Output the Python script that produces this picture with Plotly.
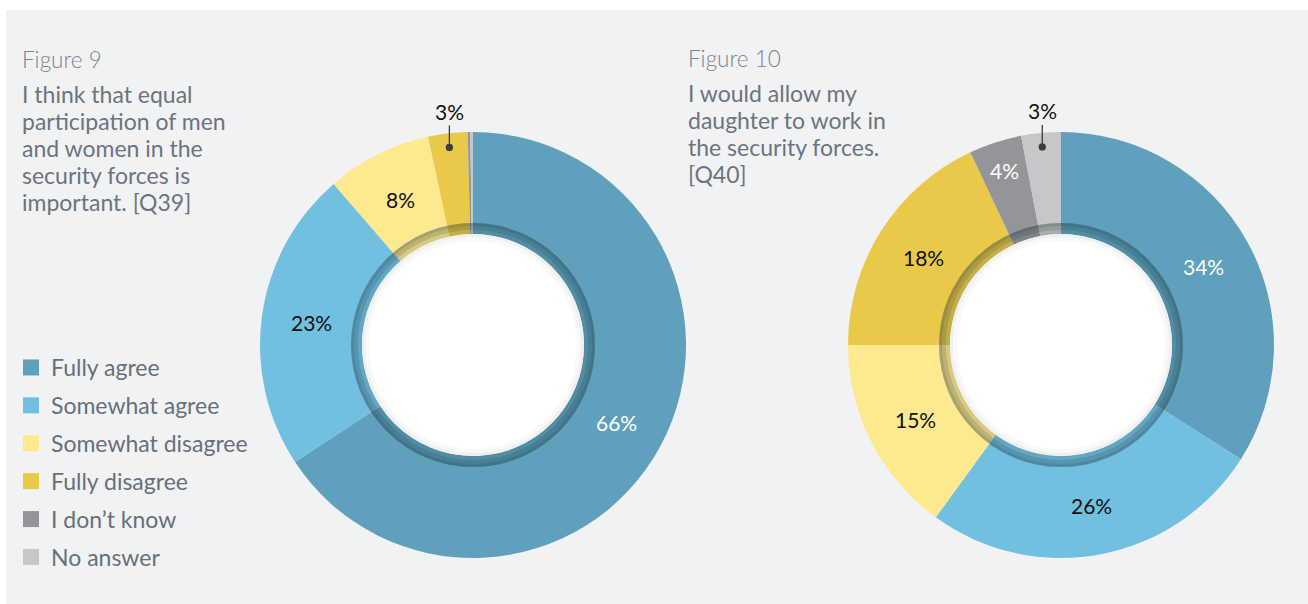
import math
import plotly.graph_objects as go

W, H = 1308, 604

categories = ["Fully agree", "Somewhat agree", "Somewhat disagree",
              "Fully disagree", "I don\u2019t know", "No answer"]
colors = ["#5fa1bd", "#72c0e0", "#fee98f", "#e9c94a", "#939598", "#c6c7c9"]

fig9_values = [66, 23, 8, 3, 0.2, 0.2]
fig10_values = [34, 26, 15, 18, 4, 3]

fig9_title = "Figure 9"
fig9_question = ["I think that equal", "participation of men", "and women in the",
                 "security forces is", "important. [Q39]"]
fig10_title = "Figure 10"
fig10_question = ["I would allow my", "daughter to work in", "the security forces.", "[Q40]"]

# which slice label is drawn outside with a leader line
fig9_outside = 3
fig10_outside = 5

FONT = "Lato, 'Open Sans', sans-serif"
TITLE_COLOR = "#6b7480"
BG = "#f1f2f4"

R_OUT, R_RING, R_HOLE = 213, 122, 111
centers = [(473, 345), (1061, 345)]


def domain(cx, cy, r):
    return dict(x=[(cx - r) / W, (cx + r) / W], y=[1 - (cy + r) / H, 1 - (cy - r) / H])


def ring(cx, cy, r_out, r_in, color):
    return go.Pie(values=[1], labels=["_"], domain=domain(cx, cy, r_out),
                  hole=(r_in / r_out) if r_in > 0 else 0, sort=False,
                  marker=dict(colors=[color], line=dict(width=0)),
                  textinfo="none", hoverinfo="skip", showlegend=False)


fig = go.Figure()
annotations = []

for (cx, cy), vals, outside, white_text in [
        (centers[0], fig9_values, fig9_outside, {0}),
        (centers[1], fig10_values, fig10_outside, {0, 4})]:
    fig.add_trace(go.Pie(values=vals, labels=categories, domain=domain(cx, cy, R_OUT),
                         hole=R_HOLE / R_OUT, sort=False, direction="clockwise", rotation=0,
                         marker=dict(colors=colors, line=dict(width=0)),
                         textinfo="none", hoverinfo="label+value", showlegend=False))
    # decorative inner shadow ring and white centre
    fig.add_trace(ring(cx, cy, R_RING, R_HOLE, "rgba(20,40,50,0.16)"))
    fig.add_trace(ring(cx, cy, R_RING, 115, "rgba(20,40,50,0.14)"))
    fig.add_trace(ring(cx, cy, R_RING, 119, "rgba(20,40,50,0.12)"))
    fig.add_trace(ring(cx, cy, R_HOLE, 0, "#ffffff"))
    fig.add_trace(ring(cx, cy, R_HOLE, 104, "rgba(0,0,0,0.025)"))
    fig.add_trace(ring(cx, cy, R_HOLE, 108, "rgba(0,0,0,0.035)"))

    total = sum(vals)
    cum = 0
    for i, v in enumerate(vals):
        mid = (cum + v / 2) / total * 2 * math.pi
        cum += v
        if v < 1:
            continue
        label = f"{v:.0f}%"
        if i == outside:
            r = 199
            px = cx + r * math.sin(mid)
            py = cy - r * math.cos(mid)
            annotations.append(dict(x=px / W, y=1 - py / H, xref="paper", yref="paper",
                                    text=label, showarrow=True, ax=0, ay=-36,
                                    arrowhead=6, arrowsize=1.4, arrowwidth=1.3,
                                    arrowcolor="#3c3c3c", standoff=0,
                                    font=dict(family=FONT, size=21, color="#111111")))
            continue
        r = 163 if v >= 5 else 183
        px = cx + r * math.sin(mid)
        py = cy - r * math.cos(mid)
        annotations.append(dict(x=px / W, y=1 - py / H, xref="paper", yref="paper",
                                text=label, showarrow=False,
                                xanchor="center", yanchor="middle",
                                font=dict(family=FONT, size=21,
                                          color="#ffffff" if i in white_text else "#111111")))

# titles
for x, ty, qy, title, q in [(20, 60, 94, fig9_title, fig9_question),
                            (686, 58, 93, fig10_title, fig10_question)]:
    annotations.append(dict(x=x / W, y=1 - ty / H, xref="paper", yref="paper", text=title,
                            showarrow=False, xanchor="left", yanchor="middle", align="left",
                            font=dict(family="Lato Light, Lato, sans-serif", size=22.5,
                                      color="#7b838d", weight=300)))
    for k, line in enumerate(q):
        annotations.append(dict(x=x / W, y=1 - (qy + 27 * k) / H, xref="paper", yref="paper",
                                text=line, showarrow=False, xanchor="left", yanchor="middle",
                                align="left",
                                font=dict(family=FONT, size=23, color=TITLE_COLOR)))

# legend entries
for i, (c, col) in enumerate(zip(categories, colors)):
    fig.add_trace(go.Scatter(x=[None], y=[None], mode="markers", name=c,
                             legendgroup=f"g{i}",
                             marker=dict(symbol="square", size=16, color=col),
                             hoverinfo="skip"))

fig.update_layout(
    width=W, height=H,
    margin=dict(l=0, r=0, t=0, b=0, pad=0),
    paper_bgcolor="#ffffff", plot_bgcolor="rgba(0,0,0,0)",
    xaxis=dict(visible=False), yaxis=dict(visible=False),
    shapes=[dict(type="rect", xref="paper", yref="paper", x0=6 / W, x1=1,
                 y0=0, y1=1 - 10 / H, fillcolor=BG, line=dict(width=0), layer="below")],
    annotations=annotations,
    legend=dict(x=11 / W, y=1 - 346 / H, xanchor="left", yanchor="top",
                bgcolor="rgba(0,0,0,0)", tracegroupgap=5,
                font=dict(family=FONT, size=23, color="#66707c")),
    showlegend=True,
)

fig.write_html("out.html", config={"displayModeBar": False},
               post_script="document.body.style.margin='0px';document.body.style.overflow='hidden';")
